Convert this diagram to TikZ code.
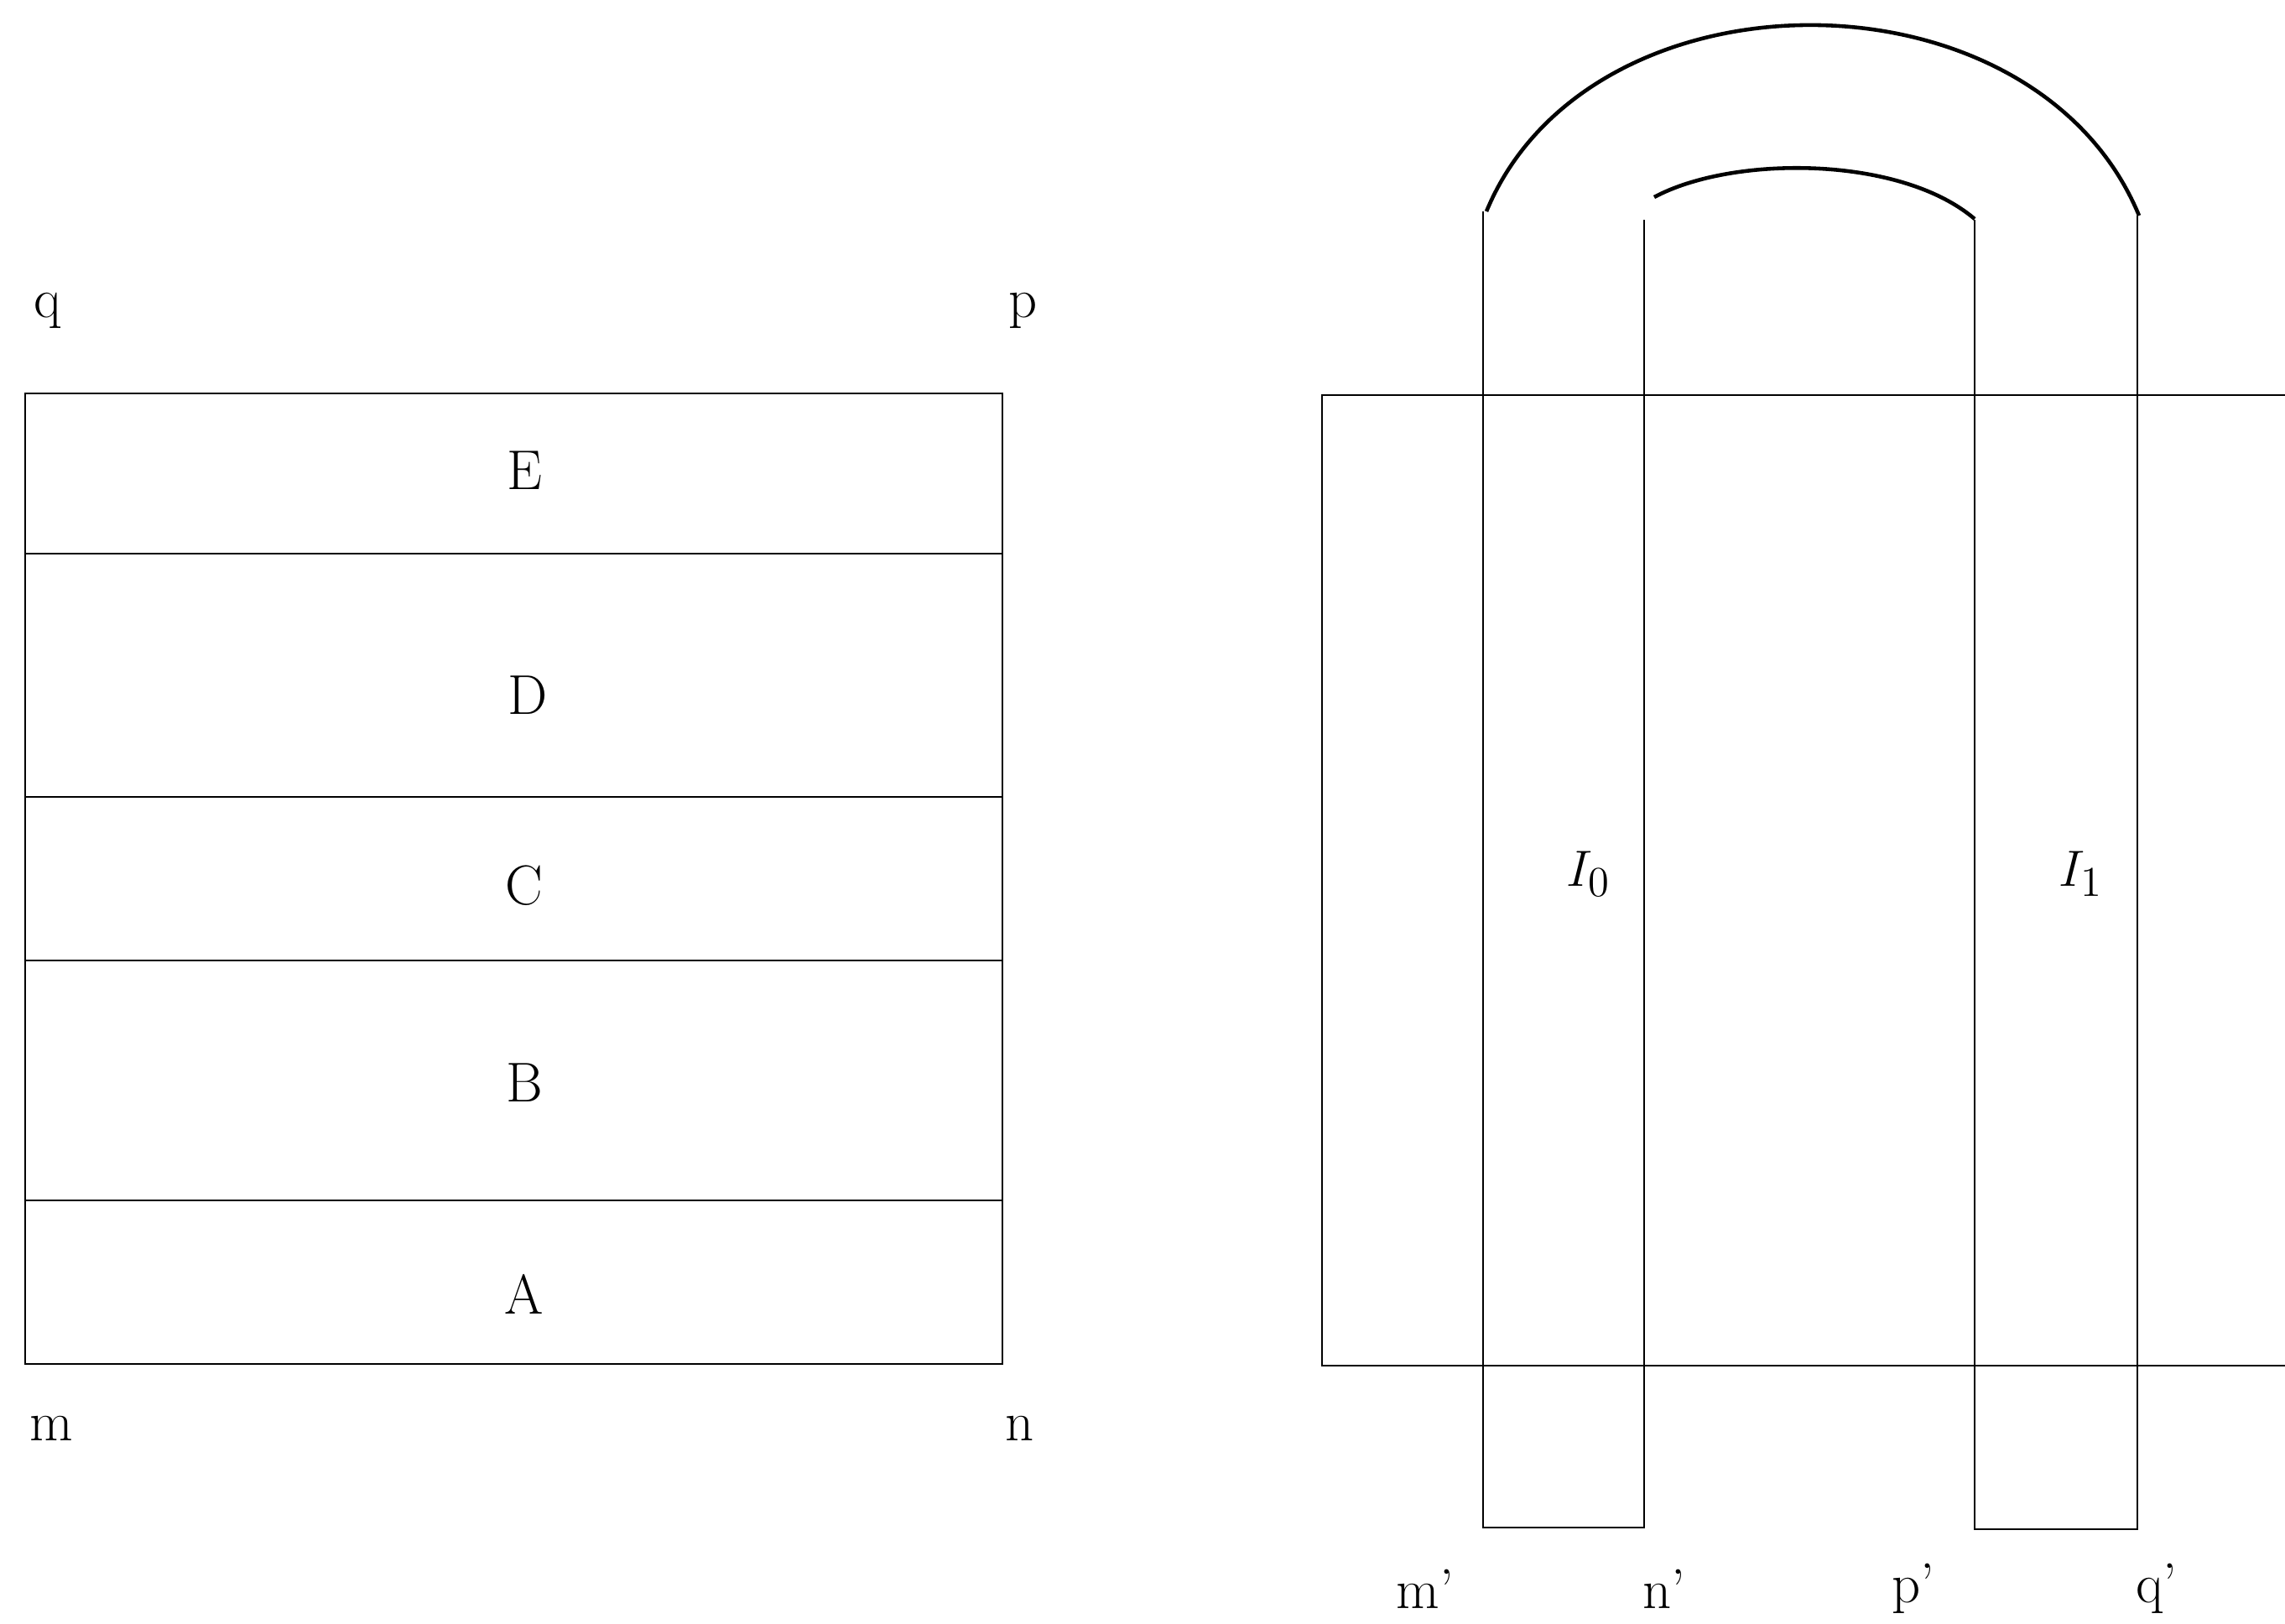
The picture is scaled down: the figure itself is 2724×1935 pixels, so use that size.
\documentclass[tikz,border=0pt]{standalone}
\begin{document}
\begin{tikzpicture}[x=0.01cm,y=-0.01cm,
  lbl/.style={inner sep=0pt,font=\fontsize{19}{21}\selectfont},
  edge/.style={line width=0.8pt},
  arch/.style={line width=1.3pt}]
\useasboundingbox (0,0) rectangle (2724,1935);
% left rectangle with bands
\draw[edge] (30,469) rectangle (1195,1626);
\draw[edge] (30,660) -- (1195,660);
\draw[edge] (30,950) -- (1195,950);
\draw[edge] (30,1145) -- (1195,1145);
\draw[edge] (30,1431) -- (1195,1431);
\node[lbl] (E) at (625,561) {E};
\node[lbl] (D) at (629,829) {D};
\node[lbl] (C) at (625,1056) {C};
\node[lbl] (B) at (625,1291) {B};
\node[lbl] (A) at (625,1543) {A};
\node[lbl] (q) at (57,370) {q};
\node[lbl] (p) at (1220,370) {p};
\node[lbl] (m) at (61,1703) {m};
\node[lbl] (n) at (1216,1703) {n};
% right open rectangle
\draw[edge] (2724,471) -- (1576,471) -- (1576,1628) -- (2724,1628);
% strips
\draw[edge] (1768,252) -- (1768,1821) -- (1960,1821) -- (1960,262);
\draw[edge] (2354,262) -- (2354,1823) -- (2548,1823) -- (2548,257);
% arches
\draw[arch] (1772,252) .. controls (1895,-45) and (2425,-45) .. (2550,257);
\draw[arch] (1972,235) .. controls (2065,185) and (2265,185) .. (2354,261);
\node[lbl] (I0) at (1894,1042) {$I_0$};
\node[lbl] (I1) at (2481,1042) {$I_1$};
\node[lbl] (mp) at (1699,1894) {m'};
\node[lbl] (np) at (1984,1894) {n'};
\node[lbl] (pp) at (2281,1894) {p'};
\node[lbl] (qp) at (2571,1894) {q'};
\end{tikzpicture}
\end{document}
